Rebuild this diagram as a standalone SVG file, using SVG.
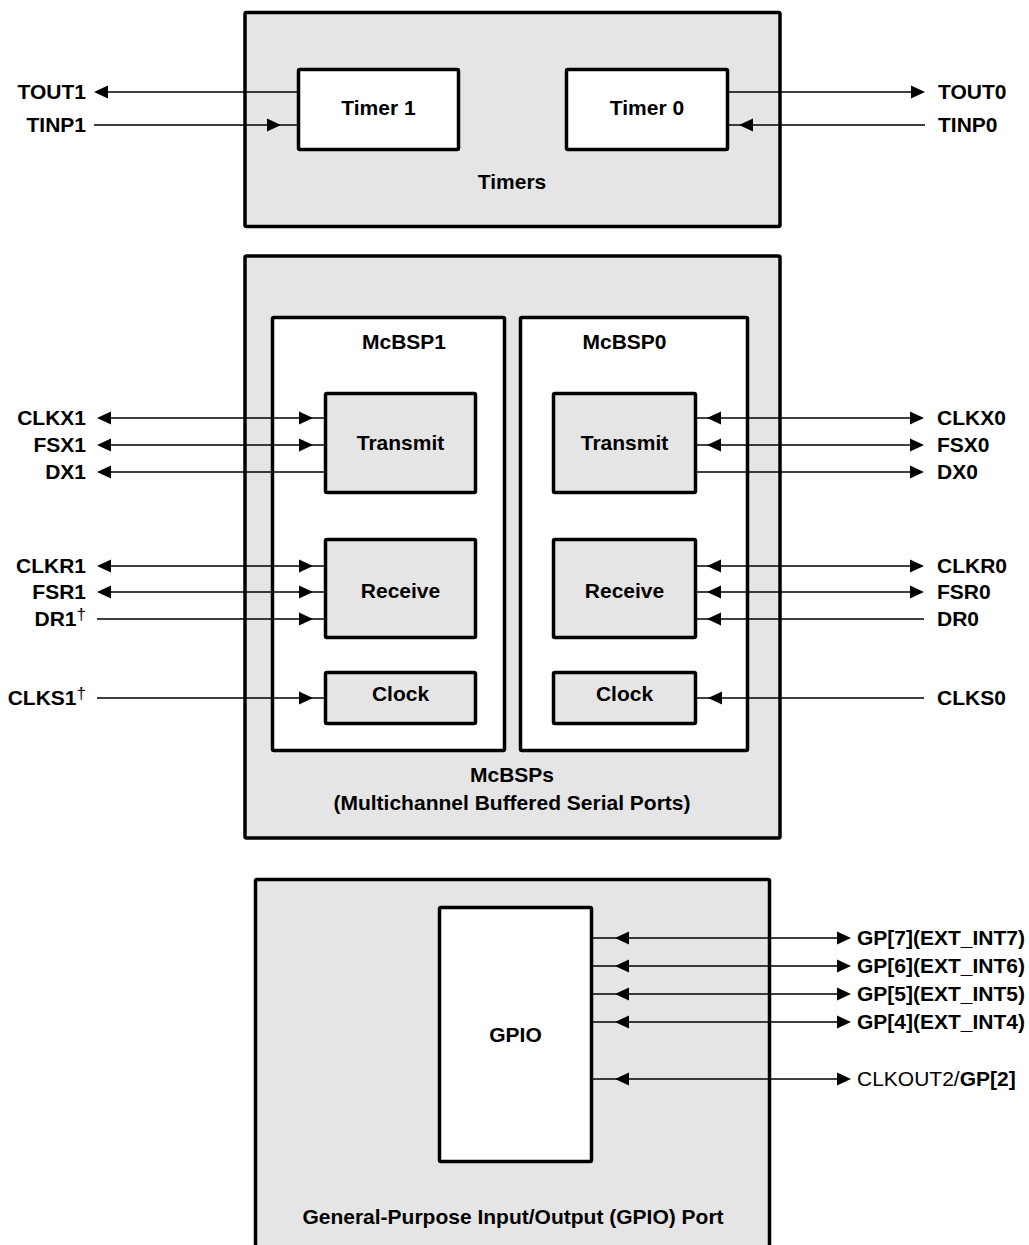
<svg xmlns="http://www.w3.org/2000/svg" xmlns:xlink="http://www.w3.org/1999/xlink" width="1029" height="1245" viewBox="0 0 1029 1245">
<style>
.outer{fill:#e5e5e5;stroke:#000;stroke-width:3.5}
.white{fill:#fff;stroke:#000;stroke-width:3.5}
.gray{fill:#e5e5e5;stroke:#000;stroke-width:3.5}
.t{font-family:"Liberation Sans",Arial,Helvetica,sans-serif;font-weight:bold;font-size:21px;fill:#000}
.c{text-anchor:middle}
.e{text-anchor:end}
.n{font-weight:normal}
.sup{font-size:17px}
.ln{stroke:#000;stroke-width:1.4;fill:none}
</style>
<defs>
<path id="ah" d="M0,0 L-14,-6.5 L-14,6.5 Z" fill="#000"/>
</defs>

<g id="timers">
<rect class="outer" x="245" y="12.5" width="535" height="214" rx="1.5"/>
<text class="t c" x="512" y="189">Timers</text>
</g>
<g id="timer1">
<rect class="white" x="298.5" y="69.5" width="160" height="80" rx="1.5"/>
<text class="t c" x="378.5" y="115">Timer 1</text>
</g>
<g id="timer0">
<rect class="white" x="566.5" y="69.5" width="161" height="80" rx="1.5"/>
<text class="t c" x="647" y="115">Timer 0</text>
</g>

<g id="mcbsps">
<rect class="outer" x="245" y="256" width="535" height="582" rx="1.5"/>
<text class="t c" x="512" y="782">McBSPs</text>
<text class="t c" x="512" y="810">(Multichannel Buffered Serial Ports)</text>
</g>
<g id="mcbsp1">
<rect class="white" x="272.5" y="317.5" width="232" height="433" rx="1.5"/>
<text class="t c" x="404" y="349">McBSP1</text>
</g>
<g id="mcbsp0">
<rect class="white" x="520.5" y="317.5" width="227" height="433" rx="1.5"/>
<text class="t c" x="624.5" y="349">McBSP0</text>
</g>
<g id="transmit1">
<rect class="gray" x="325.5" y="393.5" width="150" height="99" rx="1.5"/>
<text class="t c" x="400.5" y="450">Transmit</text>
</g>
<g id="receive1">
<rect class="gray" x="325.5" y="539.5" width="150" height="98" rx="1.5"/>
<text class="t c" x="400.5" y="598">Receive</text>
</g>
<g id="clock1">
<rect class="gray" x="325.5" y="672.5" width="150" height="51" rx="1.5"/>
<text class="t c" x="400.5" y="701">Clock</text>
</g>
<g id="transmit0">
<rect class="gray" x="553.5" y="393.5" width="142" height="99" rx="1.5"/>
<text class="t c" x="624.5" y="450">Transmit</text>
</g>
<g id="receive0">
<rect class="gray" x="553.5" y="539.5" width="142" height="98" rx="1.5"/>
<text class="t c" x="624.5" y="598">Receive</text>
</g>
<g id="clock0">
<rect class="gray" x="553.5" y="672.5" width="142" height="51" rx="1.5"/>
<text class="t c" x="624.5" y="701">Clock</text>
</g>

<g id="gpio-port">
<rect class="outer" x="255.5" y="879.5" width="514" height="400" rx="1.5"/>
<text class="t c" x="513" y="1224">General-Purpose Input/Output (GPIO) Port</text>
</g>
<g id="gpio">
<rect class="white" x="439.5" y="907.5" width="152" height="254" rx="1.5"/>
<text class="t c" x="515.5" y="1042">GPIO</text>
</g>

<g id="connectors">
<!-- Timers -->
<line class="ln" x1="100" y1="92" x2="297" y2="92"/>
<use xlink:href="#ah" transform="translate(94,92) scale(-1,1)"/>
<line class="ln" x1="94" y1="125" x2="297" y2="125"/>
<use xlink:href="#ah" transform="translate(281,125)"/>
<line class="ln" x1="729" y1="92" x2="919" y2="92"/>
<use xlink:href="#ah" transform="translate(925,92)"/>
<line class="ln" x1="729" y1="125" x2="925" y2="125"/>
<use xlink:href="#ah" transform="translate(739,125) scale(-1,1)"/>

<!-- McBSP1 -->
<line class="ln" x1="100" y1="418" x2="324" y2="418"/>
<use xlink:href="#ah" transform="translate(97,418) scale(-1,1)"/>
<use xlink:href="#ah" transform="translate(313,418)"/>
<line class="ln" x1="100" y1="445" x2="324" y2="445"/>
<use xlink:href="#ah" transform="translate(97,445) scale(-1,1)"/>
<use xlink:href="#ah" transform="translate(313,445)"/>
<line class="ln" x1="100" y1="472" x2="324" y2="472"/>
<use xlink:href="#ah" transform="translate(97,472) scale(-1,1)"/>
<line class="ln" x1="100" y1="566" x2="324" y2="566"/>
<use xlink:href="#ah" transform="translate(97,566) scale(-1,1)"/>
<use xlink:href="#ah" transform="translate(313,566)"/>
<line class="ln" x1="100" y1="592" x2="324" y2="592"/>
<use xlink:href="#ah" transform="translate(97,592) scale(-1,1)"/>
<use xlink:href="#ah" transform="translate(313,592)"/>
<line class="ln" x1="97" y1="619" x2="324" y2="619"/>
<use xlink:href="#ah" transform="translate(313,619)"/>
<line class="ln" x1="97" y1="698" x2="324" y2="698"/>
<use xlink:href="#ah" transform="translate(313,698)"/>

<!-- McBSP0 -->
<line class="ln" x1="697" y1="418" x2="920" y2="418"/>
<use xlink:href="#ah" transform="translate(707,418) scale(-1,1)"/>
<use xlink:href="#ah" transform="translate(924,418)"/>
<line class="ln" x1="697" y1="445" x2="920" y2="445"/>
<use xlink:href="#ah" transform="translate(707,445) scale(-1,1)"/>
<use xlink:href="#ah" transform="translate(924,445)"/>
<line class="ln" x1="697" y1="472" x2="920" y2="472"/>
<use xlink:href="#ah" transform="translate(924,472)"/>
<line class="ln" x1="697" y1="566" x2="920" y2="566"/>
<use xlink:href="#ah" transform="translate(707,566) scale(-1,1)"/>
<use xlink:href="#ah" transform="translate(924,566)"/>
<line class="ln" x1="697" y1="592" x2="920" y2="592"/>
<use xlink:href="#ah" transform="translate(707,592) scale(-1,1)"/>
<use xlink:href="#ah" transform="translate(924,592)"/>
<line class="ln" x1="697" y1="619" x2="924" y2="619"/>
<use xlink:href="#ah" transform="translate(707,619) scale(-1,1)"/>
<line class="ln" x1="697" y1="698" x2="924" y2="698"/>
<use xlink:href="#ah" transform="translate(708,698) scale(-1,1)"/>

<!-- GPIO -->
<line class="ln" x1="593" y1="938" x2="847" y2="938"/>
<use xlink:href="#ah" transform="translate(615,938) scale(-1,1)"/>
<use xlink:href="#ah" transform="translate(851,938)"/>
<line class="ln" x1="593" y1="966" x2="847" y2="966"/>
<use xlink:href="#ah" transform="translate(615,966) scale(-1,1)"/>
<use xlink:href="#ah" transform="translate(851,966)"/>
<line class="ln" x1="593" y1="994" x2="847" y2="994"/>
<use xlink:href="#ah" transform="translate(615,994) scale(-1,1)"/>
<use xlink:href="#ah" transform="translate(851,994)"/>
<line class="ln" x1="593" y1="1022" x2="847" y2="1022"/>
<use xlink:href="#ah" transform="translate(615,1022) scale(-1,1)"/>
<use xlink:href="#ah" transform="translate(851,1022)"/>
<line class="ln" x1="593" y1="1079" x2="847" y2="1079"/>
<use xlink:href="#ah" transform="translate(615,1079) scale(-1,1)"/>
<use xlink:href="#ah" transform="translate(851,1079)"/>
</g>

<g id="pin-labels">
<text class="t e" x="86" y="99">TOUT1</text>
<text class="t e" x="86" y="132">TINP1</text>
<text class="t" x="938" y="99">TOUT0</text>
<text class="t" x="938" y="132">TINP0</text>

<text class="t e" x="86" y="425">CLKX1</text>
<text class="t e" x="86" y="452">FSX1</text>
<text class="t e" x="86" y="479">DX1</text>
<text class="t e" x="86" y="573">CLKR1</text>
<text class="t e" x="86" y="599">FSR1</text>
<text class="t e" x="86" y="626">DR1<tspan class="sup n" dy="-6">†</tspan></text>
<text class="t e" x="86" y="705">CLKS1<tspan class="sup n" dy="-6">†</tspan></text>

<text class="t" x="937" y="425">CLKX0</text>
<text class="t" x="937" y="452">FSX0</text>
<text class="t" x="937" y="479">DX0</text>
<text class="t" x="937" y="573">CLKR0</text>
<text class="t" x="937" y="599">FSR0</text>
<text class="t" x="937" y="626">DR0</text>
<text class="t" x="937" y="705">CLKS0</text>

<text class="t" x="857" y="945">GP[7](EXT_INT7)</text>
<text class="t" x="857" y="973">GP[6](EXT_INT6)</text>
<text class="t" x="857" y="1001">GP[5](EXT_INT5)</text>
<text class="t" x="857" y="1029">GP[4](EXT_INT4)</text>
<text class="t" x="857" y="1086"><tspan class="n">CLKOUT2/</tspan>GP[2]</text>
</g>
</svg>
